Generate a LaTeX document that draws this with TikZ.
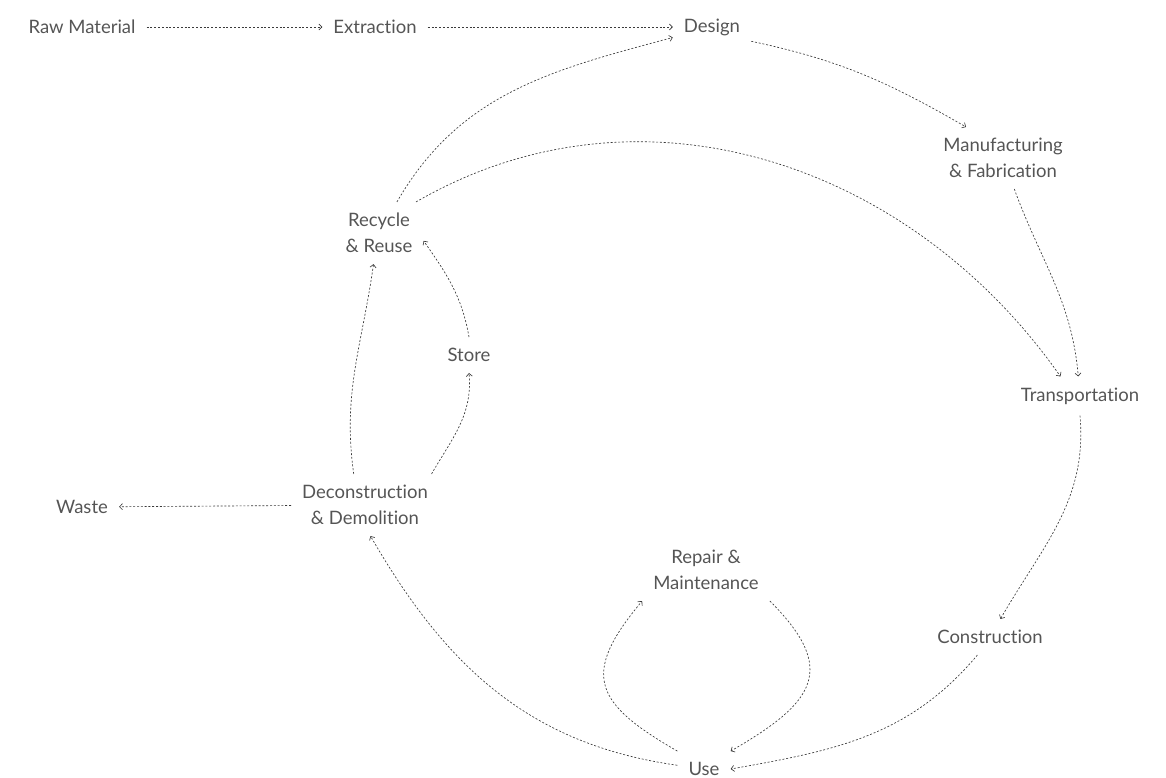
\documentclass[tikz,border=0pt]{standalone}
\usepackage{fontspec}
\setmainfont{Lato}[Ligatures=NoCommon]
\usetikzlibrary{arrows.meta}
\definecolor{inkgray}{HTML}{555555}
\definecolor{linegray}{HTML}{3a3a3a}
\begin{document}
\begin{tikzpicture}[x=1pt,y=1pt,
  stage/.style={inner sep=11pt,align=center,text=inkgray,font=\fontsize{18.5}{26}\selectfont},
  flow/.style={draw=linegray,line width=0.65pt,dash pattern=on 2pt off 1.8pt,
    -{Straight Barb[length=3pt,width=6pt,line width=0.65pt]}}]
  \useasboundingbox (0,0) rectangle (1166,-778);
  % stages of the material cycle
  \node[stage] (raw)   at (82,-27)   {Raw Material};
  \node[stage] (ext)   at (375,-27)  {Extraction};
  \node[stage] (des)   at (712,-27)  {Design};
  \node[stage] (man)   at (1003,-158){Manufacturing\\\& Fabrication};
  \node[stage] (trans) at (1080,-396){Transportation};
  \node[stage] (cons)  at (990,-637) {Construction};
  \node[stage] (use)   at (704,-769) {Use};
  \node[stage] (rep)   at (706,-570) {Repair \&\\Maintenance};
  \node[stage] (dec)   at (365,-505) {Deconstruction\\\& Demolition};
  \node[stage] (waste) at (82,-507)  {Waste};
  \node[stage] (store) at (469,-355) {Store};
  \node[stage] (rec)   at (379,-233) {Recycle\\\& Reuse};
  % forward chain
  \draw[flow] (raw) -- (ext);
  \draw[flow] (ext) -- (des);
  \draw[flow] (des.-20) to[out=-12,in=150] (man.140);
  \draw[flow] (man.-70) to[out=-70,in=95] (trans.95);
  \draw[flow] (trans.south) to[out=-85,in=60] (cons.60);
  \draw[flow] (cons.-125) to[out=-130,in=10] (use.east);
  % maintenance loop
  \draw[flow] (use.north west) to[out=150,in=-130,looseness=1.6] (rep.south west);
  \draw[flow] (rep.south east) to[out=-45,in=30,looseness=1.6] (use.north east);
  % end of life
  \draw[flow] (use.172) to[out=172,in=-60] (dec.-80);
  \draw[flow] (dec) -- (waste);
  \draw[flow] (dec.110) to[out=98,in=-98] (rec.-100);
  \draw[flow] (dec.25) to[out=60,in=-85] (store.south);
  \draw[flow] (store.north) to[out=100,in=-55] (rec.-10);
  % back into the cycle
  \draw[flow] (rec.60) to[out=60,in=195] (des.195);
  \draw[flow] (rec.40) to[out=30,in=125] (trans.135);
\end{tikzpicture}
\end{document}
